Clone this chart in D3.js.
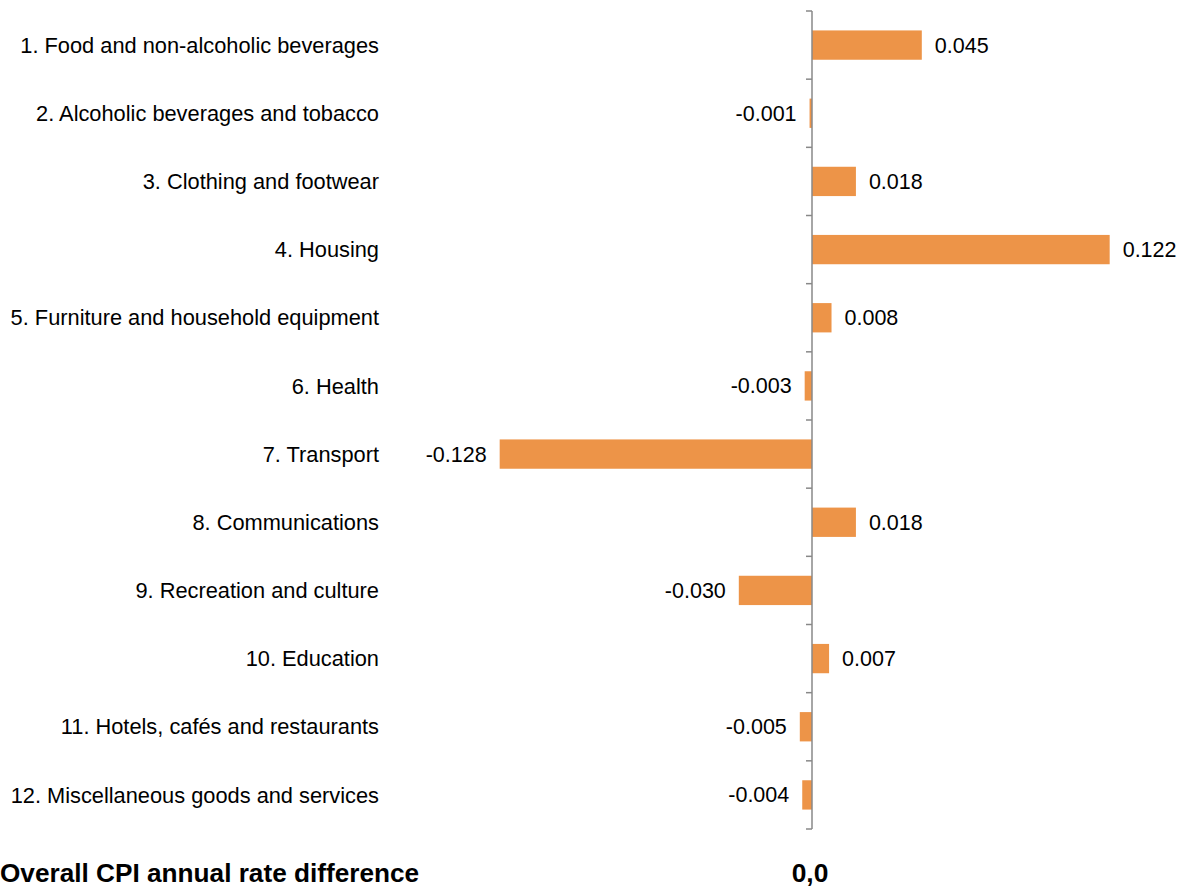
<!DOCTYPE html>
<html>
<head>
<meta charset="utf-8">
<script src="https://cdn.jsdelivr.net/npm/d3@7"></script>
<style>
  body { margin: 0; background: #fff; }
  text { font-family: "Liberation Sans", Arial, sans-serif; }
</style>
</head>
<body>
<div id="content"></div>
<script>
var categories = [
    '1. Food and non-alcoholic beverages',
    '2. Alcoholic beverages and tobacco',
    '3. Clothing and footwear',
    '4. Housing',
    '5. Furniture and household equipment',
    '6. Health',
    '7. Transport',
    '8. Communications',
    '9. Recreation and culture',
    '10. Education',
    '11. Hotels, cafés and restaurants',
    '12. Miscellaneous goods and services'
];
var values = [0.045, -0.001, 0.018, 0.122, 0.008, -0.003, -0.128, 0.018, -0.030, 0.007, -0.005, -0.004];
var totalLabel = 'Overall CPI annual rate difference';
var totalValue = '0,0';

var width = 1186, height = 889;
var svg = d3.select('#content').append('svg')
    .attr('width', width)
    .attr('height', height);

// 0 sits at x=812, about 2440px per unit
var x = d3.scaleLinear().domain([-0.14, 0.15]).range([470.4, 1178]);
var y = d3.scaleBand().domain(categories).range([11, 829]).paddingInner(0.57).paddingOuter(0.285);

var x0 = x(0);
var fmt = function(d) { return d3.format('.3f')(d).replace('\u2212', '-'); };

// bars
svg.selectAll('rect.bar')
    .data(values)
    .enter().append('rect')
    .attr('class', 'bar')
    .attr('x', function(d) { return Math.min(x(d), x0); })
    .attr('y', function(d, i) { return y(categories[i]); })
    .attr('width', function(d) { return Math.abs(x(d) - x0); })
    .attr('height', y.bandwidth())
    .attr('fill', '#ED9448');

// vertical axis at zero with ticks at category boundaries
var step = y.step();
var bounds = d3.range(categories.length + 1).map(function(i) { return 11 + i * step; });
svg.append('line')
    .attr('x1', x0).attr('x2', x0)
    .attr('y1', 11).attr('y2', 829)
    .attr('stroke', '#888').attr('stroke-width', 1.5);
svg.selectAll('line.tick')
    .data(bounds)
    .enter().append('line')
    .attr('class', 'tick')
    .attr('x1', x0 - 6).attr('x2', x0)
    .attr('y1', function(d) { return d; }).attr('y2', function(d) { return d; })
    .attr('stroke', '#888').attr('stroke-width', 1.5);

// category labels
svg.selectAll('text.cat')
    .data(categories)
    .enter().append('text')
    .attr('class', 'cat')
    .attr('x', 379)
    .attr('y', function(d) { return y(d) + y.bandwidth() / 2; })
    .attr('dy', '0.35em')
    .attr('text-anchor', 'end')
    .attr('font-size', 21.8)
    .attr('fill', '#000')
    .text(function(d) { return d; });

// value labels
svg.selectAll('text.val')
    .data(values)
    .enter().append('text')
    .attr('class', 'val')
    .attr('x', function(d) { return d >= 0 ? x(d) + 13 : x(d) - 13; })
    .attr('y', function(d, i) { return y(categories[i]) + y.bandwidth() / 2; })
    .attr('dy', '0.35em')
    .attr('text-anchor', function(d) { return d >= 0 ? 'start' : 'end'; })
    .attr('font-size', 21.5)
    .attr('fill', '#000')
    .text(fmt);

// total row
svg.append('text')
    .attr('x', 0).attr('y', 882)
    .attr('font-size', 26.2).attr('font-weight', 'bold')
    .text(totalLabel);
svg.append('text')
    .attr('x', x0 - 2).attr('y', 882)
    .attr('text-anchor', 'middle')
    .attr('font-size', 26.4).attr('font-weight', 'bold')
    .text(totalValue);
</script>
</body>
</html>
